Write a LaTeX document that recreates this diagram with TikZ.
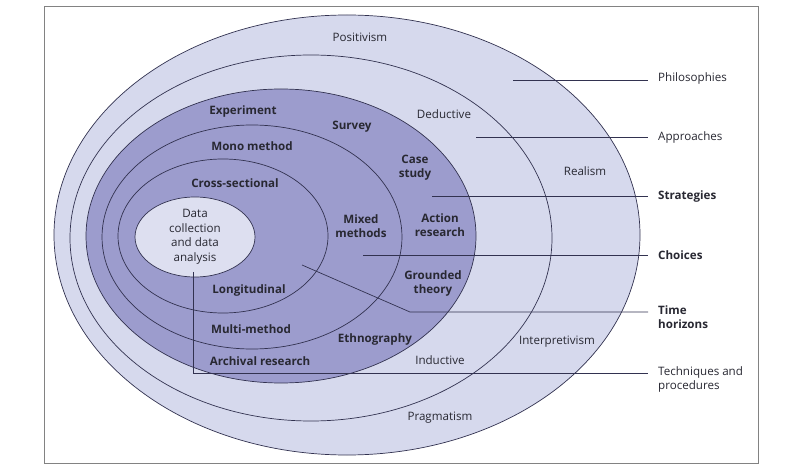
\documentclass[tikz,border=0pt]{standalone}
\usepackage{fontspec}
\setmainfont{Open Sans}
\definecolor{lightfill}{RGB}{214,217,237}
\definecolor{darkfill}{RGB}{156,156,205}
\definecolor{innerfill}{RGB}{221,223,240}
\definecolor{ringline}{RGB}{50,50,80}
\definecolor{txt}{RGB}{40,40,50}
\definecolor{framegray}{RGB}{130,130,130}
\tikzset{
  ring/.style={draw=ringline, line width=0.7pt},
  lbl/.style={text=txt, font=\fontsize{11.6}{14}\selectfont, align=center, inner sep=0pt},
  blbl/.style={lbl, font=\fontsize{11.6}{14}\selectfont\bfseries},
  keylbl/.style={lbl, anchor=west, align=left},
  bkeylbl/.style={blbl, anchor=west, align=left},
  conn/.style={draw=ringline, line width=0.7pt},
}
\begin{document}
\begin{tikzpicture}[x=1pt,y=-1pt]
\useasboundingbox (0,0) rectangle (800,470);
\fill[white] (0,0) rectangle (800,470);
\draw[framegray, line width=0.8pt] (44,6) rectangle (758,463);
% rings
\path[ring, fill=lightfill] (347,235) ellipse [x radius=293, y radius=220];
\path[ring, fill=lightfill] (311,238) ellipse [x radius=241, y radius=183];
\path[ring, fill=darkfill] (281,236) ellipse [x radius=195, y radius=147];
\path[ring] (252,237) ellipse [x radius=150, y radius=112];
\path[ring] (223,236) ellipse [x radius=105, y radius=77];
\path[ring, fill=innerfill] (195,237) ellipse [x radius=60, y radius=40];
% coordinates for connectors
\coordinate (p0) at (513,80);
\coordinate (a0) at (476,137);
\coordinate (s0) at (432,196);
\coordinate (c0) at (363,255);
\coordinate (t0) at (302,265);
\coordinate (t1) at (410,312);
\coordinate (q0) at (193,272);
\coordinate (q1) at (193,373);
\coordinate (pe) at (648,80);
\coordinate (ae) at (648,137);
\coordinate (se) at (648,196);
\coordinate (ce) at (648,255);
\coordinate (te) at (648,312);
\coordinate (qe) at (648,373);
% key labels
\node[keylbl] (phil) at (658,78) {Philosophies};
\node[keylbl] (appr) at (658,137) {Approaches};
\node[bkeylbl] (strat) at (658,196) {Strategies};
\node[bkeylbl] (choi) at (658,255) {Choices};
\node[bkeylbl, anchor=north west] (time) at (658,305) {Time\\horizons};
\node[keylbl, anchor=north west] (tech) at (658,366) {Techniques and\\procedures};
% connectors
\draw[conn] (p0) -- (pe);
\draw[conn] (a0) -- (ae);
\draw[conn] (s0) -- (se);
\draw[conn] (c0) -- (ce);
\draw[conn] (t0) -- (t1) -- (te);
\draw[conn] (q0) -- (q1) -- (qe);
% ring labels
\node[lbl] (posit) at (360,37) {Positivism};
\node[lbl] (deduc) at (444,114) {Deductive};
\node[lbl] (realism) at (585,171) {Realism};
\node[lbl] (interp) at (557,342) {Interpretivism};
\node[lbl] (induc) at (440,360) {Inductive};
\node[lbl] (prag) at (440,418) {Pragmatism};
\node[blbl] (exper) at (243,111) {Experiment};
\node[blbl] (survey) at (352,127) {Survey};
\node[blbl] (case) at (415,168) {Case\\study};
\node[blbl] (action) at (440,225) {Action\\research};
\node[blbl] (ground) at (433,283) {Grounded\\theory};
\node[blbl] (ethno) at (375,339) {Ethnography};
\node[blbl] (archiv) at (260,361) {Archival research};
\node[blbl] (mono) at (252,146) {Mono method};
\node[blbl] (mixed) at (361,226) {Mixed\\methods};
\node[blbl] (multi) at (251,329) {Multi-method};
\node[blbl] (cross) at (235,183) {Cross-sectional};
\node[blbl] (longi) at (249,290) {Longitudinal};
\node[lbl, font=\fontsize{11.6}{14.5}\selectfont] (data) at (195,237) {Data\\collection\\and data\\analysis};
\end{tikzpicture}
\end{document}
